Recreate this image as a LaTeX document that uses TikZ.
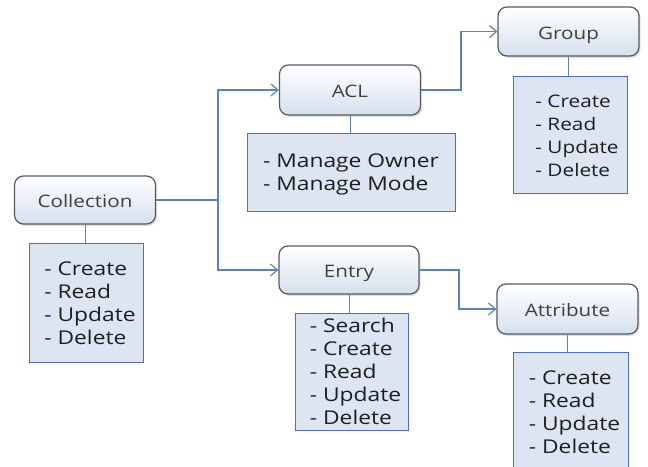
\documentclass[tikz,border=0pt]{standalone}
\usepackage{fontspec}
\setmainfont{Open Sans}[FakeStretch=1.2]
\usetikzlibrary{arrows.meta,shadows}
\definecolor{conn}{HTML}{5B82BA}
\definecolor{headline}{HTML}{5A5A5A}
\definecolor{headbot}{HTML}{D5E0EE}
\definecolor{headtext}{HTML}{404040}
\definecolor{listline}{HTML}{4F6BD0}
\definecolor{listfill}{HTML}{DCE5F1}
\definecolor{listtext}{HTML}{1E1E1E}
\newcommand{\mylines}[2]{\hspace*{#1}\raisebox{-2.5pt}[\height][\depth]{\begin{tabular}{@{}l@{}}#2\end{tabular}}}
\tikzset{
  headbox/.style={draw=headline, line width=1.2pt, rounded corners=9pt,
    top color=white, bottom color=headbot, text=headtext,
    font=\fontsize{17.2}{20}\selectfont, inner sep=0pt,
    text height=15pt, text depth=0pt,
    drop shadow={shadow xshift=1.5pt, shadow yshift=-2pt, opacity=0.25}},
  listbox/.style={draw=listline, line width=1pt, fill=listfill,
    text=listtext, font=\fontsize{19}{23}\selectfont, inner sep=0pt},
  conline/.style={draw=conn, line width=1.3pt},
  conarrow/.style={conline, -{Straight Barb[length=7pt,width=12pt,line width=1.2pt]}},
  tieline/.style={draw=conn!85!gray, line width=1pt}
}
\begin{document}
\begin{tikzpicture}[x=1pt,y=-1pt]
\clip (0,0) rectangle (648,466);
\fill[white] (0,0) rectangle (648,466);

% list boxes
\node[listbox, minimum width=114pt, minimum height=119pt] (colll) at (86,302.5)
  {\mylines{8pt}{- Create\\- Read\\- Update\\- Delete}};
\node[listbox, minimum width=208pt, minimum height=78pt] (acll) at (351,172)
  {\mylines{0pt}{- Manage Owner\\- Manage Mode}};
\node[listbox, minimum width=114pt, minimum height=117pt, font=\fontsize{17.3}{23}\selectfont] (groupl) at (570,134.5)
  {\mylines{14pt}{- Create\\- Read\\- Update\\- Delete}};
\node[listbox, minimum width=113pt, minimum height=117pt] (entryl) at (351.5,371.5)
  {\mylines{8pt}{- Search\\- Create\\- Read\\- Update\\- Delete}};
\node[listbox, minimum width=115pt, minimum height=119pt] (attrl) at (570.5,411.5)
  {\mylines{8pt}{- Create\\- Read\\- Update\\- Delete}};

% header boxes
\node[headbox, minimum width=141pt, minimum height=48pt] (coll) at (85,200) {Collection};
\node[headbox, minimum width=141pt, minimum height=50pt] (acl) at (350,90) {ACL};
\node[headbox, minimum width=141pt, minimum height=49pt] (group) at (568.5,31.5) {Group};
\node[headbox, minimum width=140pt, minimum height=48pt] (entry) at (349,270) {Entry};
\node[headbox, minimum width=141pt, minimum height=50pt] (attr) at (567.5,309) {Attribute};

% ties between header and list
\draw[tieline] (coll.south) -- (coll.south |- colll.north);
\draw[tieline] (acl.south) -- (acl.south |- acll.north);
\draw[tieline] (group.south) -- (group.south |- groupl.north);
\draw[tieline] (entry.south) -- (entry.south |- entryl.north);
\draw[tieline] (attr.south) -- (attr.south |- attrl.north);

% connectors
\coordinate (j) at (218,0);
\coordinate (k) at (461,0);
\coordinate (m) at (459,0);
\draw[conline] (coll.east) -- (coll.east -| j);
\draw[conarrow] (coll.east -| j) |- (acl.west);
\draw[conarrow] (coll.east -| j) |- (entry.west);
\draw[conarrow] (acl.east) -- (acl.east -| k) |- (group.west);
\draw[conarrow] (entry.east) -- (entry.east -| m) |- (attr.west);
\end{tikzpicture}
\end{document}
